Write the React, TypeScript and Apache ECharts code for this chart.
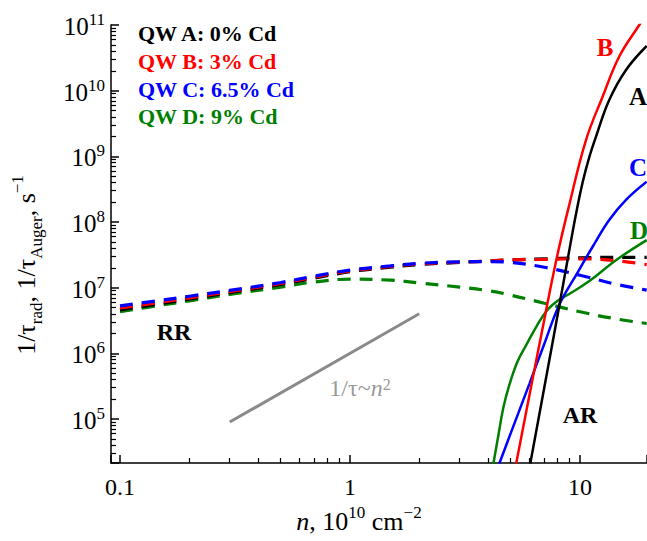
import React, { useEffect, useRef } from 'react';
import * as echarts from 'echarts';

const FONT = "'Liberation Serif', 'Times New Roman', Times, serif";

// axis ranges (n in 1e10 cm^-2, rates in s^-1)
const X_MIN = 0.0914;
const X_MAX = 19.56;
const Y_MIN = 2.14e4;
const Y_MAX = 1e11;

// radiative recombination rates (dashed)
const nRad = [0.1, 0.15, 0.2, 0.3, 0.5, 0.7, 1, 1.5, 2, 3, 4, 5, 7, 10, 14, 19.5];
const radA = [4.6e6, 5.7e6, 6.7e6, 8.4e6, 1.12e7, 1.4e7, 1.75e7, 2.05e7, 2.25e7, 2.42e7, 2.55e7, 2.65e7, 2.75e7, 2.85e7, 2.9e7, 2.9e7];
const radB = [4.9e6, 6.0e6, 7.0e6, 8.7e6, 1.16e7, 1.45e7, 1.8e7, 2.1e7, 2.3e7, 2.45e7, 2.55e7, 2.65e7, 2.7e7, 2.75e7, 2.6e7, 2.25e7];
const radC = [5.3e6, 6.4e6, 7.4e6, 9.1e6, 1.2e7, 1.5e7, 1.85e7, 2.15e7, 2.35e7, 2.48e7, 2.5e7, 2.42e7, 2.05e7, 1.55e7, 1.15e7, 9.2e6];
const radD = [4.3e6, 5.4e6, 6.3e6, 7.9e6, 1.02e7, 1.22e7, 1.35e7, 1.3e7, 1.18e7, 1.02e7, 9.0e6, 7.7e6, 5.8e6, 4.3e6, 3.4e6, 2.85e6];

// Auger recombination rates (solid)
const nAugA = [6.08, 6.6, 7.36, 8.0, 8.83, 9.6, 10.3, 11.0, 11.74, 13.4, 15.85, 19.5];
const augA = [2.1e4, 1.0e5, 7.9e5, 3.9e6, 2.64e7, 1.3e8, 4.2e8, 1.0e9, 2.0e9, 7.2e9, 2.07e10, 4.8e10];
const nAugB = [5.28, 5.8, 6.72, 7.89, 8.98, 10.62, 12.54, 14.8, 18.1, 19.5];
const augB = [2.1e4, 1.15e5, 1.6e6, 2.64e7, 1.82e8, 1.77e9, 8.1e9, 3.29e10, 1.0e11, 1.47e11];
const nAugC = [4.46, 5.0, 6.02, 7.0, 8.13, 9.73, 11.35, 13.4, 15.85, 19.5];
const augC = [2.1e4, 6.1e4, 3.4e5, 1.4e6, 5.5e6, 1.67e7, 4.2e7, 1.07e8, 2.17e8, 4.1e8];
const nAugD = [4.2, 4.42, 4.64, 4.93, 5.34, 5.84, 6.52, 7.21, 7.97, 8.98, 10.98, 14.38, 19.5];
const augD = [2.07e4, 5.7e4, 1.47e5, 3.3e5, 7.4e5, 1.34e6, 2.7e6, 4.57e6, 6.27e6, 8.0e6, 1.26e7, 2.64e7, 5.3e7];

// n^2 guide line
const nGuide = [0.3, 2];
const guide = [9e4, 4e6];

const legendLabels = ['QW A: 0% Cd', 'QW B: 3% Cd', 'QW C: 6.5% Cd', 'QW D: 9% Cd'];
const colors = ['#000000', '#ff0000', '#0000ff', '#008000'];

const pairs = (xs: number[], ys: number[]) => xs.map((x, i) => [x, ys[i]]);

const isPow10 = (v: number) => {
  const l = Math.log10(v);
  return Math.abs(l - Math.round(l)) < 1e-6;
};

export default function App() {
  const ref = useRef<HTMLDivElement>(null);
  useEffect(() => {
    if (!ref.current) return;
    const chart = echarts.init(ref.current, null, { renderer: 'svg' });
    const dashed = (name: string, data: number[][], color: string) => ({
      name,
      type: 'line',
      data,
      showSymbol: false,
      symbol: 'none',
      smooth: 0.4,
      lineStyle: { color, width: 3.2, type: [13, 9] },
      z: 2,
    });
    const solid = (name: string, data: number[][], color: string) => ({
      name,
      type: 'line',
      data,
      showSymbol: false,
      symbol: 'none',
      smooth: 0.4,
      lineStyle: { color, width: 2.5 },
      z: 3,
    });
    const bold = (text: string, x: number, y: number, color: string, size: number, align = 'center') => ({
      type: 'text',
      x,
      y,
      style: {
        text,
        fill: color,
        font: `bold ${size}px ${FONT}`,
        align,
        verticalAlign: 'middle',
      },
      z: 10,
    });
    const option = {
      animation: false,
      grid: { left: 111, top: 25, right: 0, bottom: 78, containLabel: false, outerBoundsMode: 'none' },
      xAxis: {
        type: 'log',
        min: X_MIN,
        max: X_MAX,
        logBase: 10,
        axisLine: { show: true, onZero: false, lineStyle: { color: '#000', width: 1.5 } },
        axisTick: { show: true, inside: true, length: 8, lineStyle: { color: '#000', width: 1.5 } },
        minorTick: { show: true, splitNumber: 9, length: 5, lineStyle: { color: '#000', width: 1.2 } },
        splitLine: { show: false },
        minorSplitLine: { show: false },
        axisLabel: {
          interval: 0,
          margin: 12,
          color: '#000',
          fontFamily: FONT,
          fontSize: 24,
          formatter: (v: number) => (isPow10(v) ? String(+v.toPrecision(3)) : ''),
        },
      },
      yAxis: {
        type: 'log',
        min: Y_MIN,
        max: Y_MAX,
        logBase: 10,
        axisLine: { show: true, onZero: false, lineStyle: { color: '#000', width: 1.5 } },
        axisTick: { show: true, inside: true, length: 8, lineStyle: { color: '#000', width: 1.5 } },
        minorTick: { show: true, splitNumber: 9, length: 5, lineStyle: { color: '#000', width: 1.2 } },
        splitLine: { show: false },
        minorSplitLine: { show: false },
        axisLabel: {
          interval: 0,
          margin: 6,
          color: '#000',
          formatter: (v: number) => (isPow10(v) ? `{b|10}{s|${Math.round(Math.log10(v))}}` : ''),
          rich: {
            b: { fontFamily: FONT, fontSize: 25, color: '#000', padding: [3, 0, 0, 0] },
            s: { fontFamily: FONT, fontSize: 17, color: '#000', verticalAlign: 'top' },
          },
        },
      },
      series: [
        dashed('radD', pairs(nRad, radD), colors[3]),
        dashed('radA', pairs(nRad, radA), colors[0]),
        dashed('radB', pairs(nRad, radB), colors[1]),
        dashed('radC', pairs(nRad, radC), colors[2]),
        solid('augD', pairs(nAugD, augD), colors[3]),
        solid('augC', pairs(nAugC, augC), colors[2]),
        solid('augB', pairs(nAugB, augB), colors[1]),
        solid('augA', pairs(nAugA, augA), colors[0]),
        {
          name: 'guide',
          type: 'line',
          data: pairs(nGuide, guide),
          showSymbol: false,
          symbol: 'none',
          lineStyle: { color: '#8a8a8a', width: 3 },
          z: 1,
        },
      ],
      graphic: [
        ...legendLabels.map((t, i) => bold(t, 138, [33, 61, 89, 116][i], colors[i], 22, 'left')),
        bold('B', 605, 47, colors[1], 25),
        bold('A', 638, 96, colors[0], 25),
        bold('C', 638, 167, colors[2], 25),
        bold('D', 639, 230, colors[3], 25),
        bold('RR', 174, 332, '#000', 24),
        bold('AR', 580, 415, '#000', 24),
        {
          type: 'text',
          x: 360,
          y: 388,
          style: {
            text: '{m|1/τ~}{i|n}{s|2}',
            align: 'center',
            verticalAlign: 'middle',
            fill: '#999',
            rich: {
              m: { fontFamily: FONT, fontSize: 24, fill: '#999', color: '#999' },
              i: { fontFamily: FONT, fontSize: 24, fontStyle: 'italic', fill: '#999', color: '#999' },
              s: { fontFamily: FONT, fontSize: 16, verticalAlign: 'top', fill: '#999', color: '#999' },
            },
          },
        },
        {
          type: 'text',
          x: 359,
          y: 519,
          style: {
            text: '{i|n}{m|, 10}{s|10}{m| cm}{s|−2}',
            align: 'center',
            verticalAlign: 'middle',
            rich: {
              m: { fontFamily: FONT, fontSize: 26, fill: '#000', padding: [4, 0, 0, 0] },
              i: { fontFamily: FONT, fontSize: 26, fontStyle: 'italic', fill: '#000', padding: [4, 0, 0, 0] },
              s: { fontFamily: FONT, fontSize: 17, verticalAlign: 'top', fill: '#000' },
            },
          },
        },
        {
          type: 'text',
          x: 27,
          y: 265,
          rotation: Math.PI / 2,
          style: {
            text: '{m|1/τ}{d|rad}{m|, 1/τ}{d|Auger}{m|, s}{u|−1}',
            align: 'center',
            verticalAlign: 'middle',
            rich: {
              m: { fontFamily: FONT, fontSize: 26, fill: '#000', padding: [4, 0, 6, 0] },
              d: { fontFamily: FONT, fontSize: 17, fill: '#000', verticalAlign: 'bottom' },
              u: { fontFamily: FONT, fontSize: 17, fill: '#000', verticalAlign: 'top' },
            },
          },
        },
      ],
    };
    chart.setOption(option as any);
    return () => chart.dispose();
  }, []);
  return (
    <div
      ref={ref}
      style={{ position: 'absolute', left: 0, top: 0, width: 647, height: 541, background: '#fff' }}
    />
  );
}
